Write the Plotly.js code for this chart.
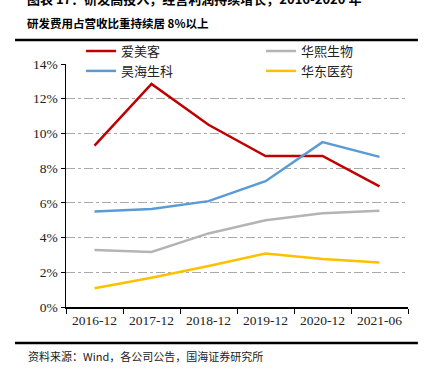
<!DOCTYPE html>
<html><head><meta charset="utf-8">
<script src="https://cdn.plot.ly/plotly-3.0.1.min.js"></script>
<style>html,body{margin:0;padding:0;background:#fff;}#c{width:429px;height:375px;}</style>
</head><body><div id="c"></div>
<script>
const categories = ['2016-12','2017-12','2018-12','2019-12','2020-12','2021-06'];
const aimeike = [9.3, 12.85, 10.5, 8.7, 8.7, 6.95];
const huaxi = [3.28, 3.17, 4.24, 5.0, 5.4, 5.55];
const haohai = [5.5, 5.65, 6.1, 7.25, 9.5, 8.65];
const huadong = [1.08, 1.69, 2.36, 3.08, 2.76, 2.57];
const yTicks = [0,2,4,6,8,10,12,14];
const yTickText = ['0%','2%','4%','6%','8%','10%','12%','14%'];

const cjk = '"Noto Sans CJK SC", "Liberation Serif", serif';
const mk = (name, y, color, lg) => ({x: categories, y: y, name: name, type: 'scatter', mode: 'lines',
  line: {color: color, width: 2.5}, hoverinfo: 'skip', legend: lg});
const data = [
  mk('爱美客', aimeike, '#c00000', 'legend'),
  mk('昊海生科', haohai, '#5b9bd5', 'legend'),
  mk('华熙生物', huaxi, '#b4b4b4', 'legend2'),
  mk('华东医药', huadong, '#ffc000', 'legend2')
];
const legFont = {family: cjk, size: 13, color: '#222'};
const layout = {
  width: 429, height: 375,
  margin: {l: 66, r: 21, t: 64, b: 68},
  paper_bgcolor: '#fff', plot_bgcolor: '#fff',
  showlegend: true,
  legend: {orientation: 'v', x: 0.044, xanchor: 'left', y: 1.115, yanchor: 'top',
    itemwidth: 30, tracegroupgap: 0, font: legFont, bgcolor: 'rgba(0,0,0,0)'},
  legend2: {orientation: 'v', x: 0.57, xanchor: 'left', y: 1.115, yanchor: 'top',
    itemwidth: 30, tracegroupgap: 0, font: legFont, bgcolor: 'rgba(0,0,0,0)'},
  xaxis: {type: 'category', range: [-0.5, 5.5], showgrid: false, showline: true, linecolor: '#000', linewidth: 1.5,
    ticks: 'outside', tickson: 'boundaries', ticklen: 5, tickcolor: '#000',
    tickfont: {family: '"Liberation Serif", serif', size: 13.5, color: '#222'}, fixedrange: true},
  yaxis: {range: [0, 14], tickvals: yTicks, ticktext: yTickText, showline: true, linecolor: '#000', linewidth: 1.5,
    ticks: 'outside', ticklen: 4, tickcolor: '#000', zeroline: false,
    showgrid: true, gridcolor: '#aaaaaa', griddash: 'dashdot', gridwidth: 1,
    tickfont: {family: '"Liberation Serif", serif', size: 13.5, color: '#222'}, fixedrange: true},
  shapes: [
    {type: 'line', xref: 'paper', yref: 'paper', x0: -0.149, x1: 1.029, y0: 1.099, y1: 1.099, line: {color: '#000', width: 2.5}},
    {type: 'line', xref: 'paper', yref: 'paper', x0: -0.149, x1: 1.029, y0: -0.148, y1: -0.148, line: {color: '#000', width: 2.5}}
  ],
  annotations: [
    {text: '<b>图表 17：研发高投入，经营利润持续增长，2016-2020 年</b>', xref: 'paper', yref: 'paper', x: -0.12, y: 1.268, xanchor: 'left', yanchor: 'middle', showarrow: false,
      font: {family: cjk, size: 13, color: '#000'}},
    {text: '<b>研发费用占营收比重持续居 8%以上</b>', xref: 'paper', yref: 'paper', x: -0.12, y: 1.168, xanchor: 'left', yanchor: 'middle', showarrow: false,
      font: {family: cjk, size: 11.5, color: '#000'}},
    {text: '资料来源：Wind，各公司公告，国海证券研究所', xref: 'paper', yref: 'paper', x: -0.118, y: -0.2, xanchor: 'left', yanchor: 'middle', showarrow: false,
      font: {family: cjk, size: 11, color: '#222'}}
  ]
};
Plotly.newPlot('c', data, layout, {displayModeBar: false, staticPlot: true});
</script></body></html>
